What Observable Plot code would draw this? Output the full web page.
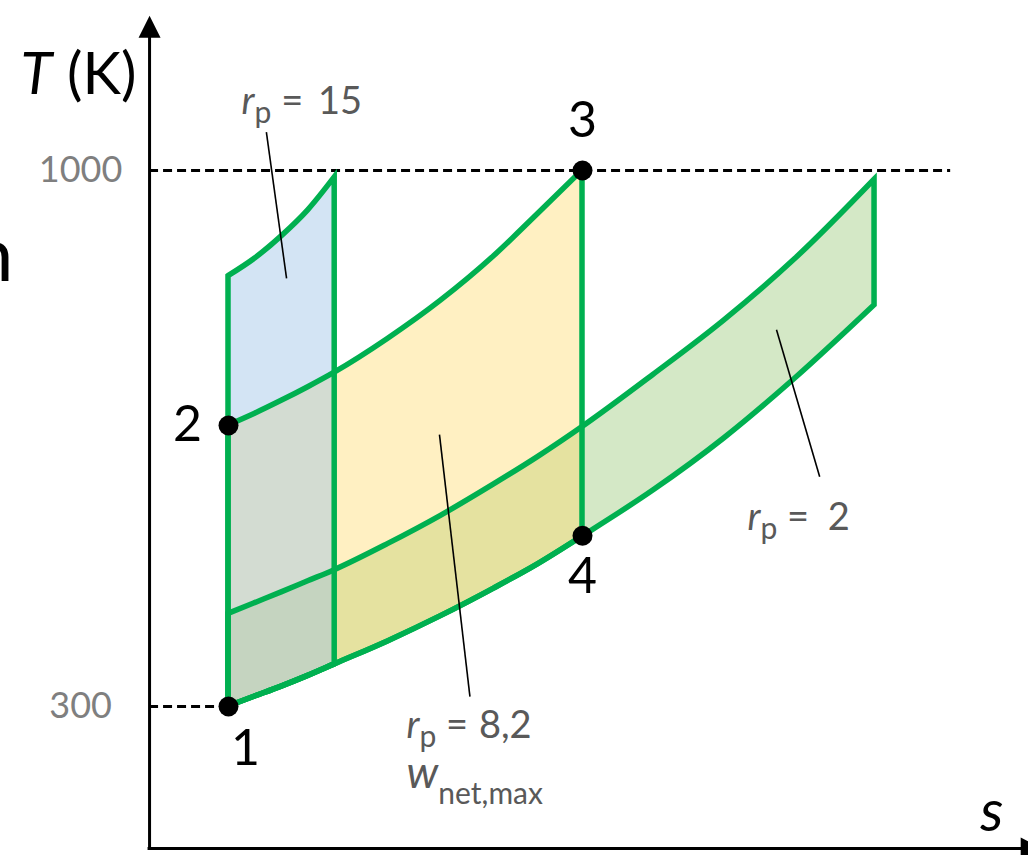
<!DOCTYPE html>
<html>
<head>
<meta charset="utf-8">
<script src="https://cdn.jsdelivr.net/npm/d3@7"></script>
<script src="https://cdn.jsdelivr.net/npm/@observablehq/plot@0.6"></script>
<style>
  html, body { margin: 0; padding: 0; background: #fff; overflow: hidden; }
  #chart svg { display: block; overflow: hidden; }
</style>
</head>
<body>
<div id="chart"></div>
<script>
// Brayton cycles on a T–s diagram for three pressure ratios, same T1 = 300 K and T3 = 1000 K.
// Entropy is normalised: s = 0 at state 1, s = 1 at states 3 and 4 of the r_p = 8,2 cycle.
const sGrid = [0, 0.075, 0.15, 0.225, 0.3, 0.45, 0.6, 0.75, 0.875, 1.0, 1.2, 1.4, 1.6, 1.825];

// Temperature (K) along the low-pressure isobar shared by all cycles
const tLow  = [300, 313, 326, 340, 355, 385, 418, 454, 486, 522, 582, 650, 728, 824];
// Temperature (K) along the high-pressure isobar of each cycle
const tRp2  = [421, 435, 449, 463.5, 478, 512, 549, 590, 626, 665, 733, 804, 884, 988];
const tRp82 = [667, 682.4, 699.2, 717, 736, 780, 830, 888, 943.5, 1000];
const tRp15 = [862, 885, 914, 948, 991];

// Numbered states of the r_p = 8,2 cycle
const stateNames = ["1", "2", "3", "4"];
const stateS = [0, 0, 1, 1];
const stateT = [300, 667, 1000, 523];

// Temperature ticks
const tickValues = [300, 1000];

// Cycle annotations and their leader lines
const labelNames = ["r_p = 15", "r_p = 8,2", "w_net,max", "r_p = 2"];
const labelS = [0.037, 0.503, 0.503, 1.466];
const labelT = [1074, 259, 194, 530];
const leaderS1 = [0.107, 0.596, 1.548];
const leaderT1 = [1050, 655, 792];
const leaderS2 = [0.164, 0.682, 1.670];
const leaderT2 = [859, 313, 600];

// Axis extent (s, T) and reference line end
const sAxis = -0.223, tAxis = 114.5;
const sAxisEnd = 2.25, sArrow = 2.30;
const tAxisEnd = 1180, tArrow = 1202;
const sDashEnd = 2.04;

// Styling
const green = "#00B050";
const fills = {rp2: "#A9D18E", rp82: "#FFD966", rp15: "#9DC3E6"};
const fillOpacity = {rp2: 0.5, rp82: 0.4, rp15: 0.45};
const stateOffsets = {"1": [17, 42], "2": [-41, 0], "3": [0, -50], "4": [0, 41]};
const font = "Lato, 'Open Sans', sans-serif";

const cycleRows = {
  rp2: tRp2.map((t, i) => ({s: sGrid[i], low: tLow[i], high: t})),
  rp82: tRp82.map((t, i) => ({s: sGrid[i], low: tLow[i], high: t})),
  rp15: tRp15.map((t, i) => ({s: sGrid[i], low: tLow[i], high: t}))
};
const order = ["rp2", "rp82", "rp15"];

const arrowUp = {draw(ctx) { ctx.moveTo(0, 0); ctx.lineTo(11, 22); ctx.lineTo(-11, 22); ctx.closePath(); }};
const arrowRight = {draw(ctx) { ctx.moveTo(0, 0); ctx.lineTo(-22, -11); ctx.lineTo(-22, 11); ctx.closePath(); }};

const states = stateNames.map((n, i) => ({n, s: stateS[i], T: stateT[i]}));
const labels = labelNames.map((n, i) => ({n, s: labelS[i], T: labelT[i]}));
const leaders = leaderS1.map((s, i) => ({s1: s, t1: leaderT1[i], s2: leaderS2[i], t2: leaderT2[i]}));

const plot = Plot.plot({
  width: 1028,
  height: 855,
  margin: 0,
  x: {domain: [0, 1], range: [228, 582], axis: null},
  y: {domain: [300, 1000], range: [706, 170], axis: null},
  style: {fontFamily: font, background: "white", overflow: "hidden"},
  marks: [
    // dashed guides at T1 and T3
    Plot.ruleY([tickValues[0]], {x1: sAxis, x2: 0, stroke: "black", strokeWidth: 3, strokeDasharray: "9,5"}),
    Plot.ruleY([tickValues[1]], {x1: sAxis, x2: sDashEnd, stroke: "black", strokeWidth: 3, strokeDasharray: "9,5"}),

    // translucent cycle areas
    ...order.map(c => Plot.areaY(cycleRows[c], {
      x: "s", y1: "low", y2: "high", curve: "monotone-x",
      fill: fills[c], fillOpacity: fillOpacity[c]
    })),
    // cycle outlines
    ...order.map(c => Plot.areaY(cycleRows[c], {
      x: "s", y1: "low", y2: "high", curve: "monotone-x",
      fill: "none", stroke: green, strokeWidth: 5.5, strokeLinejoin: "miter", strokeMiterlimit: 6
    })),

    // axes with arrowheads
    Plot.ruleX([sAxis], {y1: tAxis, y2: tAxisEnd, stroke: "black", strokeWidth: 3, strokeLinecap: "square"}),
    Plot.ruleY([tAxis], {x1: sAxis, x2: sAxisEnd, stroke: "black", strokeWidth: 3, strokeLinecap: "square"}),
    Plot.dot([0], {x: sAxis, y: tArrow, symbol: arrowUp, fill: "black"}),
    Plot.dot([0], {x: sArrow, y: tAxis, symbol: arrowRight, fill: "black"}),

    // tick labels
    Plot.text(tickValues, {x: sAxis, y: d => d, text: d => `${d}`, dx: -69, textAnchor: "middle",
      fill: "#7f7f7f", fontSize: 36}),

    // leader lines
    Plot.link(leaders, {x1: "s1", y1: "t1", x2: "s2", y2: "t2", stroke: "black", strokeWidth: 1.6}),

    // states
    Plot.dot(states, {x: "s", y: "T", r: 10, fill: "black"}),
    ...states.map(d => Plot.text([d], {x: "s", y: "T", text: "n", dx: stateOffsets[d.n][0], dy: stateOffsets[d.n][1],
      fill: "black", fontSize: 50})),

    // cycle labels
    Plot.text(labels, {x: "s", y: "T", text: "n", textAnchor: "start", lineAnchor: "bottom",
      fill: "#595959", fontSize: 38}),

    // axis titles
    Plot.text(["T (K)"], {frameAnchor: "top-left", dx: 20, dy: 93, textAnchor: "start", lineAnchor: "bottom",
      fill: "black", fontSize: 58}),
    Plot.text(["s"], {frameAnchor: "bottom-right", dx: -25, dy: -25, textAnchor: "end", lineAnchor: "bottom",
      fill: "black", fontSize: 58, fontStyle: "italic"}),
    Plot.text(["n"], {frameAnchor: "top-left", dx: 13, dy: 280, textAnchor: "end", lineAnchor: "bottom",
      fill: "black", fontSize: 76})
  ]
});

// italic symbols and subscripts
function richText(svg, plain, parts) {
  d3.select(svg).selectAll("text")
    .filter(function() { return this.textContent === plain; })
    .each(function() {
      const t = d3.select(this);
      t.text(null);
      for (const p of parts) {
        const ts = t.append("tspan").text(p.text);
        if (p.italic) ts.attr("font-style", "italic");
        if (p.size) ts.attr("font-size", p.size);
        if (p.dy) ts.attr("dy", p.dy);
        if (p.dx) ts.attr("dx", p.dx);
      }
    });
}
const rp = (value, gap) => [
  {text: "r", italic: true},
  {text: "p", size: 30, dy: 9},
  {text: " =", dy: -9},
  {text: " " + value, dx: gap}
];
richText(plot, "r_p = 15", rp("15", 5));
richText(plot, "r_p = 8,2", rp("8,2", 1));
richText(plot, "r_p = 2", rp("2", 9));
richText(plot, "w_net,max", [{text: "w", italic: true, size: 44}, {text: "net,max", size: 30, dy: 16}]);
richText(plot, "T (K)", [{text: "T", italic: true}, {text: " (K)"}]);

document.getElementById("chart").append(plot);
</script>
</body>
</html>
